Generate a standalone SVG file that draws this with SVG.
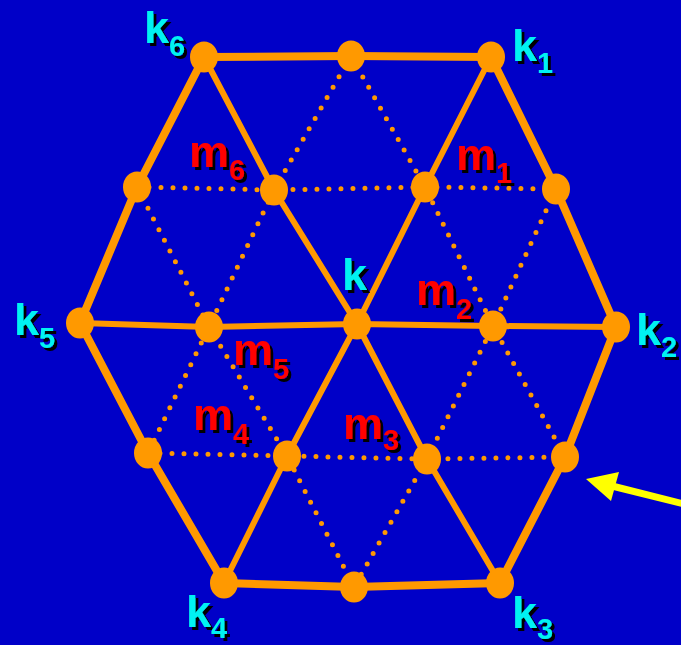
<svg xmlns="http://www.w3.org/2000/svg" width="681" height="645" viewBox="0 0 681 645">
  <defs>
    <style>
      .outer { fill: none; stroke: #FF9900; stroke-width: 8; stroke-linejoin: round; }
      .solid { fill: none; stroke: #FF9900; stroke-width: 6; stroke-linejoin: round; }
      .dot { fill: none; stroke: #FF9900; stroke-width: 5; stroke-linecap: round; stroke-dasharray: 0 12; }
      .node { fill: #FF9900; }
      .lbl { font-family: "Liberation Sans", Arial, sans-serif; font-weight: bold; font-size: 45px; filter: url(#sh); }
      .k { fill: #00F2F2; }
      .m { fill: #FF0000; }
      .sub { font-size: 29px; }
    </style>
    <filter id="sh" x="-20%" y="-20%" width="140%" height="140%">
      <feDropShadow dx="3" dy="3" stdDeviation="0" flood-color="#000000"/>
    </filter>
  </defs>
  <rect x="0" y="0" width="681" height="645" fill="#0000C8"/>

  <g id="connectors">
    <!-- dotted lines -->
    <polyline class="dot" points="351,56 274,190 209,327 148,453"/>
    <polyline class="dot" points="351,56 425,187 493,326 565,457"/>
    <polyline class="dot" points="137,187 274,190 425,187 556,189"/>
    <polyline class="dot" points="148,453 287,456 427,459 565,457"/>
    <polyline class="dot" points="137,187 209,327 287,456 354,587"/>
    <polyline class="dot" points="556,189 493,326 427,459 354,587"/>
    <!-- inner solid lines -->
    <polyline class="solid" points="204,57 274,190 357,324 427,459 500,583"/>
    <polyline class="solid" points="491,57 425,187 357,324 287,456 224,583"/>
    <polyline class="solid" points="80,323 209,327 357,324 493,326 616,327"/>
    <!-- outer hexagon -->
    <polygon class="outer" points="204,57 351,56 491,57 556,189 616,327 565,457 500,583 354,587 224,583 148,453 80,323 137,187"/>
  </g>

  <g id="n-k6"><ellipse class="node" cx="204" cy="57" rx="14" ry="15.5"/>
    <text class="lbl k" x="144" y="43">k<tspan class="sub" dy="13">6</tspan></text></g>
  <g id="n-top"><ellipse class="node" cx="351" cy="56" rx="14" ry="15.5"/></g>
  <g id="n-k1"><ellipse class="node" cx="491" cy="57" rx="14" ry="15.5"/>
    <text class="lbl k" x="512" y="61">k<tspan class="sub" dy="12">1</tspan></text></g>
  <g id="n-l1"><ellipse class="node" cx="137" cy="187" rx="14" ry="15.5"/></g>
  <g id="n-m6"><ellipse class="node" cx="274" cy="190" rx="14" ry="15.5"/>
    <text class="lbl m" x="189" y="167">m<tspan class="sub" dy="13">6</tspan></text></g>
  <g id="n-m1"><ellipse class="node" cx="425" cy="187" rx="14" ry="15.5"/>
    <text class="lbl m" x="456" y="170">m<tspan class="sub" dy="13">1</tspan></text></g>
  <g id="n-r1"><ellipse class="node" cx="556" cy="189" rx="14" ry="15.5"/></g>
  <g id="n-k5"><ellipse class="node" cx="80" cy="323" rx="14" ry="15.5"/>
    <text class="lbl k" x="14" y="335">k<tspan class="sub" dy="13">5</tspan></text></g>
  <g id="n-m5"><ellipse class="node" cx="209" cy="327" rx="14" ry="15.5"/>
    <text class="lbl m" x="233" y="365">m<tspan class="sub" dy="14">5</tspan></text></g>
  <g id="n-k"><ellipse class="node" cx="357" cy="324" rx="14" ry="15.5"/>
    <text class="lbl k" x="342" y="290">k</text></g>
  <g id="n-m2"><ellipse class="node" cx="493" cy="326" rx="14" ry="15.5"/>
    <text class="lbl m" x="416" y="305">m<tspan class="sub" dy="14">2</tspan></text></g>
  <g id="n-k2"><ellipse class="node" cx="616" cy="327" rx="14" ry="15.5"/>
    <text class="lbl k" x="636" y="345">k<tspan class="sub" dy="12">2</tspan></text></g>
  <g id="n-m4"><ellipse class="node" cx="148" cy="453" rx="14" ry="15.5"/>
    <text class="lbl m" x="193" y="430">m<tspan class="sub" dy="14">4</tspan></text></g>
  <g id="n-m3l"><ellipse class="node" cx="287" cy="456" rx="14" ry="15.5"/></g>
  <g id="n-m3"><ellipse class="node" cx="427" cy="459" rx="14" ry="15.5"/>
    <text class="lbl m" x="343" y="439">m<tspan class="sub" dy="11">3</tspan></text></g>
  <g id="n-r2"><ellipse class="node" cx="565" cy="457" rx="14" ry="15.5"/></g>
  <g id="n-k4"><ellipse class="node" cx="224" cy="583" rx="14" ry="15.5"/>
    <text class="lbl k" x="186" y="627">k<tspan class="sub" dy="11">4</tspan></text></g>
  <g id="n-bottom"><ellipse class="node" cx="354" cy="587" rx="14" ry="15.5"/></g>
  <g id="n-k3"><ellipse class="node" cx="500" cy="583" rx="14" ry="15.5"/>
    <text class="lbl k" x="512" y="628">k<tspan class="sub" dy="11">3</tspan></text></g>

  <g id="pointer">
    <line x1="612" y1="486" x2="700" y2="508" stroke="#FFFF00" stroke-width="7"/>
    <polygon points="586,479 619,472 611,501" fill="#FFFF00"/>
  </g>
</svg>
